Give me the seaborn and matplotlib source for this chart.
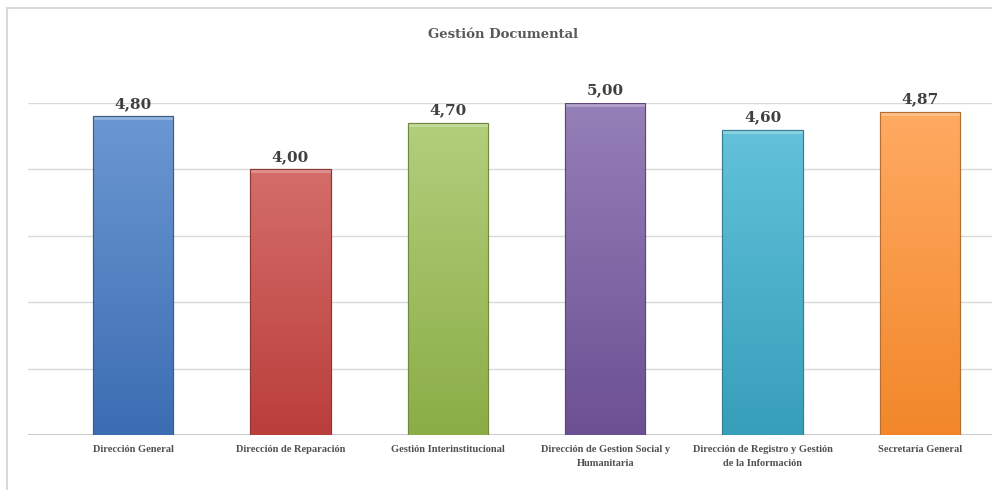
import numpy as np
import pandas as pd
import matplotlib
matplotlib.use("Agg")
import matplotlib.pyplot as plt
import seaborn as sns
from matplotlib.colors import LinearSegmentedColormap
from matplotlib.patches import Rectangle

categories = ["Dirección General", "Dirección de Reparación", "Gestión Interinstitucional",
              "Dirección de Gestion Social y\nHumanitaria",
              "Dirección de Registro y Gestión\nde la Información", "Secretaría General"]
values = [4.80, 4.00, 4.70, 5.00, 4.60, 4.87]
value_labels = ["4,80", "4,00", "4,70", "5,00", "4,60", "4,87"]
title = "Gestión Documental"
base_colors = ["#4F81BD", "#C0504D", "#9BBB59", "#8064A2", "#4BACC6", "#F79646"]
top_colors = ["#6B98D2", "#D46D6A", "#B2CF7C", "#9680B8", "#62C2DA", "#FFAA62"]
bottom_colors = ["#3C6DB3", "#BA3E3B", "#8BAD46", "#6C5093", "#379EBA", "#F2872A"]
edge_colors = ["#385D8A", "#8C3836", "#71893F", "#5C4776", "#357D91", "#B66D31"]

df = pd.DataFrame({"cat": categories, "val": values})

sns.set_style("white")
fig = plt.figure(figsize=(9.92, 4.9), dpi=100)
fig.patches.append(Rectangle((7/992, -0.1), 1.2, 1.1 - 8/490, transform=fig.transFigure,
                             fill=False, edgecolor="#D9D9D9", linewidth=1.5))
ax = fig.add_axes([28/992, 55/490, (992-28)/992, (435-103)/490])

sns.barplot(data=df, x="cat", y="val", hue="cat", palette=base_colors, legend=False,
            width=0.51, ax=ax, zorder=3)

for i, p in enumerate(ax.patches):
    x0, y0 = p.get_x(), p.get_y()
    w, h = p.get_width(), p.get_height()
    cmap = LinearSegmentedColormap.from_list("g", [bottom_colors[i], top_colors[i]])
    grad = np.linspace(0, 1, 256).reshape(-1, 1)
    im = ax.imshow(grad, extent=[x0, x0 + w, y0, y0 + h], origin="lower", aspect="auto",
                   cmap=cmap, zorder=3.5)
    im.set_clip_path(p)
    ax.add_patch(Rectangle((x0, y0 + h - 0.06), w, 0.06, facecolor="white", alpha=0.25,
                           edgecolor="none", zorder=3.6))
    p.set_edgecolor(edge_colors[i])
    p.set_linewidth(0.8)
    ax.add_patch(Rectangle((x0, y0), w, h, fill=False, edgecolor=edge_colors[i],
                           linewidth=0.8, zorder=3.7))
    ax.annotate(value_labels[i], (x0 + w/2, y0 + h), xytext=(0, 4), textcoords="offset points",
                ha="center", va="bottom", fontsize=11, fontweight="bold",
                family="DejaVu Serif", color="#404040", annotation_clip=False)

ax.set_xlim(-(133-28)/157.4, (992-133)/157.4)
ax.set_ylim(0, 5)
ax.set_yticks([1, 2, 3, 4, 5])
ax.set_yticklabels([])
ax.tick_params(axis="y", length=0)
ax.grid(axis="y", color="#D9D9D9", linewidth=1, zorder=0)
ax.axhline(0, color="#BFBFBF", linewidth=1.2, zorder=2)
for s in ax.spines.values():
    s.set_visible(False)
ax.set_xlabel("")
ax.set_ylabel("")
ax.tick_params(axis="x", length=0, pad=7)
for lab in ax.get_xticklabels():
    lab.set_fontsize(7.5)
    lab.set_family("Liberation Serif")
    lab.set_fontweight("semibold")
    lab.set_color("#505050")
    lab.set_linespacing(1.8)

fig.text(503/992, 1 - 35/490, title, ha="center", va="center", fontsize=9.5,
         fontweight="bold", family="DejaVu Serif", color="#595959")

fig.savefig("out.png", dpi=100)
